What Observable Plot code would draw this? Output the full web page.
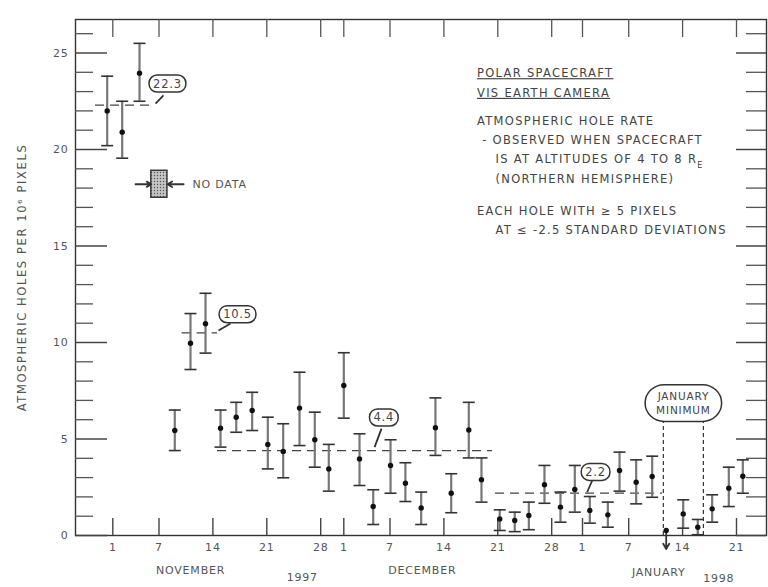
<!DOCTYPE html>
<html>
<head>
<meta charset="utf-8">
<script src="https://cdn.jsdelivr.net/npm/d3@7"></script>
<script src="https://cdn.jsdelivr.net/npm/@observablehq/plot@0.6"></script>
<style>
  body { margin: 0; background: #fff; }
</style>
</head>
<body>
<div id="chart"></div>
<script>
// ---- data (day number: Nov 1 1997 = 1, Dec 1 = 31, Jan 1 1998 = 62) ----
const days  = [0.27, 2.22, 4.47, 9.05, 11.09, 13.04, 14.99, 17.03, 19.1, 21.13, 23.13, 25.25, 27.23, 29.05, 31.0, 33.04, 34.82, 37.07, 39.0, 41.05, 42.9, 44.95, 47.23, 48.88, 51.25, 53.2, 55.03, 57.06, 59.14, 61.0, 62.95, 65.29, 66.81, 68.97, 71.05, 72.87, 75.08, 76.97, 78.84, 81.0, 82.82];
const rates = [22.0, 20.9, 23.95, 5.44, 9.96, 10.97, 5.56, 6.13, 6.48, 4.72, 4.35, 6.6, 4.96, 3.45, 7.77, 3.97, 1.5, 3.63, 2.71, 1.43, 5.58, 2.19, 5.47, 2.89, 0.86, 0.78, 1.04, 2.63, 1.47, 2.38, 1.3, 1.07, 3.37, 2.76, 3.06, 0.26, 1.12, 0.43, 1.38, 2.45, 3.07];
const lows  = [20.2, 19.55, 22.5, 4.4, 8.6, 9.45, 4.58, 5.35, 5.44, 3.45, 2.99, 4.66, 3.54, 2.3, 6.08, 2.59, 0.57, 2.19, 1.76, 0.57, 4.15, 1.18, 4.02, 1.73, 0.26, 0.2, 0.3, 1.67, 0.69, 1.21, 0.64, 0.43, 2.3, 1.64, 1.98, -0.7, 0.38, 0.04, 0.69, 1.5, 2.19];
const highs = [23.8, 22.5, 25.5, 6.5, 11.5, 12.55, 6.5, 6.9, 7.42, 6.13, 5.79, 8.46, 6.39, 4.72, 9.47, 5.27, 2.37, 4.96, 3.77, 2.25, 7.13, 3.2, 6.9, 4.02, 1.33, 1.21, 1.73, 3.63, 2.25, 3.63, 2.02, 1.73, 4.32, 3.92, 4.11, null, 1.85, 0.83, 2.11, 3.54, 3.92];

// period means
const meanLabels = ["22.3", "10.5", "4.4", "2.2"];
const meanValues = [22.3, 10.5, 4.4, 2.2];
const meanFrom   = [-1.25, 10.0, 14.6, 50.7];
const meanTo     = [5.9, 14.6, 50.3, 72.4];

// x tick labels
const tickDays   = [1, 7, 14, 21, 28, 31, 37, 44, 51, 58, 62, 68, 75, 82];
const tickLabels = ["1", "7", "14", "21", "28", "1", "7", "14", "21", "28", "1", "7", "14", "21"];
const monthNames = ["NOVEMBER", "1997", "DECEMBER", "JANUARY", "1998"];
const yTickLabels = [0, 5, 10, 15, 20, 25];

// no-data gap
const noDataStart = 6.0, noDataEnd = 8.1;
// January minimum window
const janMinStart = 72.5, janMinEnd = 77.7;
const janMinText = "JANUARY\nMINIMUM";

// annotation text block
const infoLines = [
  "POLAR SPACECRAFT",
  "VIS EARTH CAMERA",
  "ATMOSPHERIC HOLE RATE",
  "- OBSERVED WHEN SPACECRAFT",
  "IS AT ALTITUDES OF 4 TO 8 R_E",
  "(NORTHERN HEMISPHERE)",
  "EACH HOLE WITH \u2265 5 PIXELS",
  "AT \u2264 -2.5 STANDARD DEVIATIONS"
];
const yTitle = "ATMOSPHERIC HOLES PER 10\u2076 PIXELS";

// ---- layout ----
const W = 768, H = 587;
const mL = 75, mR = 2, mT = 19, mB = 52;
const frameW = W - mL - mR, frameH = H - mT - mB;
const pxPerUnit = 19.3;

const obs = days.map((d, i) => ({day: d, rate: rates[i], lo: lows[i], hi: highs[i]}));
const bars = obs.filter(d => d.hi != null && d.lo >= 0);
const openLow = obs.filter(d => d.lo < 0);
const means = meanLabels.map((l, i) => ({label: l, value: meanValues[i], from: meanFrom[i], to: meanTo[i]}));
// label placement for means (box centre, leader line)
const meanBoxes = [
  {label: "22.3", x: 8.1,  y: 23.4,  ax: 6.55,  ay: 22.38, bx: 7.58,  by: 22.8},
  {label: "10.5", x: 17.2, y: 11.45, ax: 14.73, ay: 10.62, bx: 16.29, by: 10.98},
  {label: "4.4",  x: 36.2, y: 6.1,   ax: 35.0,  ay: 4.58,  bx: 35.9,  by: 5.54},
  {label: "2.2",  x: 63.7, y: 3.28,  ax: 62.6,  ay: 2.24,  bx: 63.26, by: 2.85}
];
const monthPos = [
  {t: monthNames[0], x: 11.1, off: 35},
  {t: monthNames[1], x: 25.6, off: 42},
  {t: monthNames[2], x: 41.2, off: 35},
  {t: monthNames[3], x: 71.9, off: 37},
  {t: monthNames[4], x: 79.7, off: 43}
].map(d => ({...d, y: -d.off / pxPerUnit}));
const infoPos = [
  {x: 48.3, y: 23.94}, {x: 48.3, y: 22.92}, {x: 48.3, y: 21.47}, {x: 48.97, y: 20.47},
  {x: 50.7, y: 19.47}, {x: 50.7, y: 18.48}, {x: 48.3, y: 16.79}, {x: 50.7, y: 15.8}
];
const info = infoLines.map((t, i) => ({t, ...infoPos[i]}));

const minorTicks = d3.range(0, 27, 1).filter(v => v % 5 !== 0);
const majorTicks = d3.range(0, 27, 5);
const labelMap = new Map(tickDays.map((d, i) => [d, tickLabels[i]]));

const capSymbol = {draw(ctx, size) { const r = Math.sqrt(size / Math.PI); ctx.moveTo(-r, 0); ctx.lineTo(r, 0); }};

const ink = "#333";

const svg = Plot.plot({
  width: W, height: H,
  marginLeft: mL, marginRight: mR, marginTop: mT, marginBottom: mB,
  style: {fontFamily: "'DejaVu Sans', sans-serif", fontSize: "11px", letterSpacing: "0.8px", color: "#555", background: "#fff"},
  x: {domain: [1 + (mL - 112.3) / 7.7, 1 + (mL + frameW - 112.3) / 7.7]},
  y: {domain: [0, frameH / pxPerUnit]},
  marks: [
    Plot.frame({stroke: ink, strokeWidth: 1.4}),
    // inward ticks
    Plot.tickY(minorTicks, {y: d => d, insetRight: frameW - 18, stroke: "#555", strokeWidth: 1.3}),
    Plot.tickY(majorTicks, {y: d => d, insetRight: frameW - 32, stroke: "#444", strokeWidth: 1.5}),
    Plot.tickY(minorTicks, {y: d => d, insetLeft: frameW - 20, stroke: "#555", strokeWidth: 1.3}),
    Plot.tickY(majorTicks, {y: d => d, insetLeft: frameW - 30, stroke: "#444", strokeWidth: 1.5}),
    Plot.tickX(tickDays, {x: d => d, insetTop: frameH - 17, stroke: "#444", strokeWidth: 1.4}),
    Plot.tickX(tickDays, {x: d => d, insetBottom: frameH - 18, stroke: "#555", strokeWidth: 1.3}),
    Plot.axisX({ticks: tickDays, tickFormat: d => labelMap.get(d), tickSize: 0, tickPadding: 8, label: null, fontSize: 11}),
    Plot.axisY({ticks: yTickLabels, tickSize: 0, tickPadding: 7, label: null, fontSize: 11}),
    Plot.text([yTitle], {frameAnchor: "left", textAnchor: "middle", dx: -53, rotate: -90, text: d => d, fontSize: 11.5}),
    Plot.text(monthPos, {x: "x", y: "y", text: "t", fontSize: 11}),
    // means
    Plot.ruleY(means, {y: "value", x1: "from", x2: "to", stroke: "#444", strokeWidth: 1.3, strokeDasharray: "9,6"}),
    Plot.link(meanBoxes, {x1: "ax", y1: "ay", x2: "bx", y2: "by", stroke: ink, strokeWidth: 1.8}),
    Plot.text(meanBoxes, {x: "x", y: "y", text: "label", fontSize: 11.5, fill: "#444"}),
    // January minimum
    Plot.ruleX([janMinStart, janMinEnd], {x: d => d, y1: 0, y2: 5.87, stroke: ink, strokeWidth: 1.2, strokeDasharray: "4,3"}),
    Plot.text([janMinText], {x: (janMinStart + janMinEnd) / 2, y: 6.9, text: d => d, fontSize: 10.5, lineHeight: 1.4, fill: "#444"}),
    // no data
    Plot.rect([{a: noDataStart, b: noDataEnd}], {x1: "a", x2: "b", y1: 17.5, y2: 18.9, fill: "url(#stip)", stroke: ink, strokeWidth: 1.4}),
    Plot.arrow([{a: 3.95, b: noDataStart}, {a: 10.2, b: noDataEnd}], {x1: "a", x2: "b", y1: 18.2, y2: 18.2, stroke: ink, strokeWidth: 1.8, headLength: 6}),
    Plot.text(["NO DATA"], {x: 11.35, y: 18.2, text: d => d, textAnchor: "start", fontSize: 11}),
    // info text
    Plot.text(info, {x: "x", y: "y", text: "t", textAnchor: "start", fontSize: 11.5, fill: "#444"}),
    // error bars
    Plot.ruleX(bars, {x: "day", y1: "lo", y2: "hi", stroke: "#777", strokeWidth: 2.2}),
    Plot.dot(bars, {x: "day", y: "hi", symbol: capSymbol, r: 6, stroke: ink, strokeWidth: 1.6, fill: "none"}),
    Plot.dot(bars, {x: "day", y: "lo", symbol: capSymbol, r: 6, stroke: ink, strokeWidth: 1.6, fill: "none"}),
    Plot.arrow(openLow, {x1: "day", y1: "rate", x2: "day", y2: "lo", stroke: ink, strokeWidth: 1.8, headLength: 5}),
    Plot.dot(obs, {x: "day", y: "rate", r: 2.7, fill: "#111"})
  ]
});

document.getElementById("chart").append(svg);

const ns = "http://www.w3.org/2000/svg";
const defs = document.createElementNS(ns, "defs");
defs.innerHTML = '<pattern id="stip" width="3" height="3" patternUnits="userSpaceOnUse"><rect width="3" height="3" fill="#c4c4c4"/><circle cx="1.5" cy="1.5" r="0.7" fill="#555"/></pattern>';
svg.prepend(defs);

function boxify(match, px, py, rx) {
  svg.querySelectorAll("text").forEach(t => {
    if (!match(t.textContent)) return;
    const b = t.getBBox();
    const r = document.createElementNS(ns, "rect");
    r.setAttribute("x", b.x - px);
    r.setAttribute("y", b.y - py);
    r.setAttribute("width", b.width + 2 * px);
    r.setAttribute("height", b.height + 2 * py);
    r.setAttribute("rx", rx);
    r.setAttribute("fill", "#fff");
    r.setAttribute("stroke", ink);
    r.setAttribute("stroke-width", 1.5);
    if (t.getAttribute("transform")) r.setAttribute("transform", t.getAttribute("transform"));
    t.parentNode.insertBefore(r, t);
  });
}
boxify(s => meanLabels.includes(s), 4, 1.5, 8);
boxify(s => s === janMinText.replace("\n", ""), 11, 5, 19);

svg.querySelectorAll("text").forEach(t => {
  const s = t.textContent;
  const i = infoLines.indexOf(s);
  if (i >= 0) t.style.letterSpacing = "1.3px";
  if (i === 0 || i === 1) t.style.textDecoration = "underline";
  if (s === yTitle) t.style.letterSpacing = "1.6px";
  if (s.endsWith("R_E")) {
    t.textContent = s.slice(0, -2);
    const ts = document.createElementNS(ns, "tspan");
    ts.setAttribute("baseline-shift", "sub");
    ts.setAttribute("font-size", "8");
    ts.textContent = "E";
    t.append(ts);
  }
});
</script>
</body>
</html>
